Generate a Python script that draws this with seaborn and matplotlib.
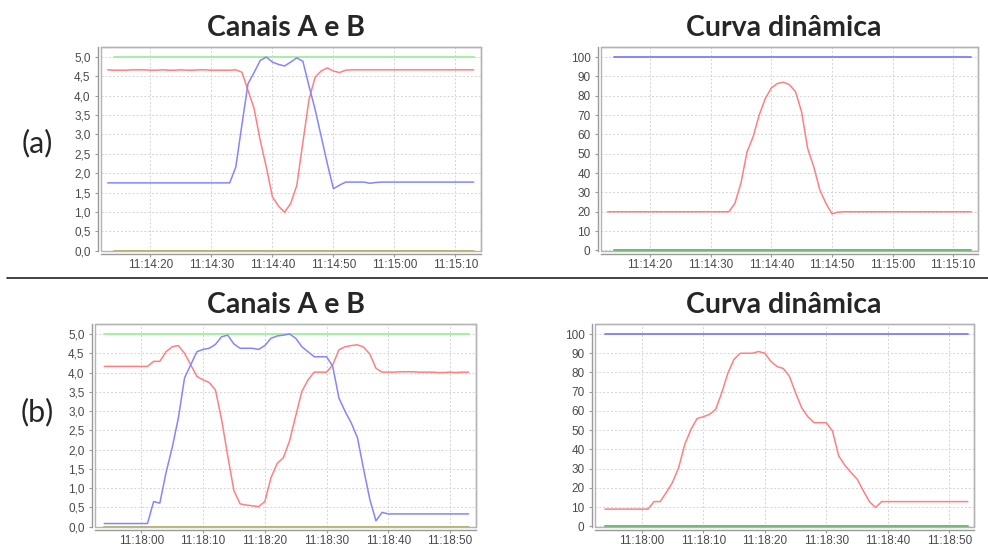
import matplotlib
matplotlib.use('Agg')
import matplotlib.pyplot as plt
import matplotlib.dates as mdates
from matplotlib.ticker import FuncFormatter, MultipleLocator
from matplotlib.patches import Rectangle
from matplotlib.lines import Line2D
import pandas as pd
import seaborn as sns

sns.set_style('white')
plt.rcParams['font.family'] = ['Liberation Sans', 'DejaVu Sans']

# ---------- (a) dados: 11:14:13 a 11:15:13, 1 amostra/s ----------
inicio_a = '2020-01-01 11:14:13'
canal_a_vermelho = [4.67, 4.66, 4.66, 4.66, 4.67, 4.67, 4.67, 4.66, 4.66, 4.67, 4.66,
                    4.66, 4.67, 4.66, 4.66, 4.67, 4.67, 4.66, 4.66, 4.66, 4.66,
                    4.67, 4.61, 4.14, 3.67, 2.85, 2.16, 1.39, 1.15, 0.99, 1.22,
                    1.68, 2.80, 3.90, 4.48, 4.64, 4.72, 4.64, 4.60, 4.66,
                    4.67, 4.67, 4.67, 4.67, 4.67, 4.67, 4.67, 4.67, 4.67, 4.67, 4.67,
                    4.67, 4.67, 4.67, 4.67, 4.67, 4.67, 4.67, 4.67, 4.67, 4.67]
canal_a_azul = [1.75, 1.75, 1.75, 1.75, 1.75, 1.75, 1.75, 1.75, 1.75, 1.75, 1.75,
                1.75, 1.75, 1.75, 1.75, 1.75, 1.75, 1.75, 1.75, 1.75, 1.75,
                2.16, 3.25, 4.31, 4.60, 4.91, 5.00, 4.87, 4.81, 4.77, 4.87,
                4.98, 4.89, 4.25, 3.65, 2.95, 2.25, 1.60, 1.69, 1.77,
                1.77, 1.77, 1.77, 1.74, 1.76, 1.77, 1.77, 1.77, 1.77, 1.77, 1.77,
                1.77, 1.77, 1.77, 1.77, 1.77, 1.77, 1.77, 1.77, 1.77, 1.77]
canal_a_verde = [5.0] * 60      # começa 1 s depois
canal_a_amarelo = [0.0] * 60
curva_a_vermelho = [20, 20, 20, 20, 20, 20, 20, 20, 20, 20, 20,
                    20, 20, 20, 20, 20, 20, 20, 20, 20, 20,
                    24.4, 35, 51, 58.8, 70, 78.5, 84, 86.3, 87, 85.7,
                    82, 71.6, 52.7, 43.3, 31.3, 24.4, 18.9, 19.8, 20,
                    20, 20, 20, 20, 20, 20, 20, 20, 20, 20, 20,
                    20, 20, 20, 20, 20, 20, 20, 20, 20, 20]
curva_a_azul = [100] * 60
curva_a_verde = [0] * 60

# ---------- (b) dados: 11:17:54 a 11:18:53 ----------
inicio_b = '2020-01-01 11:17:54'
canal_b_azul = [0.08, 0.08, 0.08, 0.08, 0.08, 0.08, 0.08, 0.08,
                0.65, 0.61, 1.40, 2.05, 2.82, 3.86, 4.20, 4.54, 4.60, 4.63,
                4.73, 4.93, 4.97, 4.74, 4.63, 4.63, 4.63, 4.60, 4.70, 4.89,
                4.95, 4.97, 5.00, 4.89, 4.67, 4.54, 4.41, 4.41, 4.41, 4.16,
                3.34, 2.99, 2.69, 2.31, 1.49, 0.71, 0.15, 0.37, 0.33,
                0.33, 0.33, 0.33, 0.33, 0.33, 0.33, 0.33, 0.33, 0.33, 0.33, 0.33, 0.33, 0.33]
canal_b_vermelho = [4.16, 4.16, 4.16, 4.16, 4.16, 4.16, 4.16, 4.16,
                    4.29, 4.29, 4.54, 4.67, 4.70, 4.50, 4.20, 3.90, 3.81, 3.74,
                    3.55, 2.78, 1.83, 0.93, 0.59, 0.56, 0.54, 0.52, 0.65, 1.27,
                    1.64, 1.79, 2.22, 2.87, 3.51, 3.81, 4.01, 4.01, 4.01, 4.20,
                    4.59, 4.67, 4.70, 4.72, 4.66, 4.48, 4.11, 4.01, 4.01,
                    4.01, 4.02, 4.02, 4.02, 4.01, 4.01, 4.01, 4.00, 4.00, 4.01, 4.00, 4.01, 4.01]
canal_b_verde = [5.0] * 60
canal_b_amarelo = [0.0] * 60
curva_b_vermelho = [9, 9, 9, 9, 9, 9, 9, 9,
                    12.9, 12.9, 17.7, 22.9, 30.6, 42.7, 50.4, 56.1, 57, 58.2,
                    60.8, 69.4, 79.7, 86.9, 90, 90, 90, 90.9, 90, 85.7,
                    83.1, 82.1, 78, 69.4, 61.6, 57, 53.9, 53.9, 53.9, 49.6,
                    36.7, 31.8, 28.1, 24.6, 18.6, 12.9, 9.8, 12.9, 12.9,
                    12.9, 12.9, 12.9, 12.9, 12.9, 12.9, 12.9, 12.9, 12.9, 12.9, 12.9, 12.9, 12.9]
curva_b_azul = [100] * 60
curva_b_verde = [0] * 60

VERMELHO = '#ff8080'
AZUL = '#8585ff'
VERDE = '#a3f0a3'
AMARELO = '#b3ad6a'
VERDE_ESC = '#74b874'


def tempos(inicio, n, atraso=0):
    return pd.date_range(pd.Timestamp(inicio) + pd.Timedelta(seconds=atraso), periods=n, freq='s')


def virgula(v, _):
    return f'{v:.1f}'.replace('.', ',')


def estilo(ax, xlim, ylim, passo, fmt_virgula):
    ax.set_xlim(pd.Timestamp(xlim[0]), pd.Timestamp(xlim[1]))
    ax.set_ylim(*ylim)
    ax.xaxis.set_major_locator(mdates.SecondLocator(bysecond=[0, 10, 20, 30, 40, 50]))
    ax.xaxis.set_major_formatter(mdates.DateFormatter('%H:%M:%S'))
    ax.yaxis.set_major_locator(MultipleLocator(passo))
    if fmt_virgula:
        ax.yaxis.set_major_formatter(FuncFormatter(virgula))
    else:
        ax.yaxis.set_major_formatter(FuncFormatter(lambda v, _: f'{v:.0f}'))
    ax.grid(True, color='#d4d4d4', linestyle=(0, (2, 2)), linewidth=0.7)
    ax.set_xlabel('')
    ax.set_ylabel('')
    for s in ['top', 'right']:
        ax.spines[s].set_color('#b4b4b4')
        ax.spines[s].set_linewidth(1.0)
    for s in ['left', 'bottom']:
        ax.spines[s].set_position(('outward', 2))
        ax.spines[s].set_color('#9a9a9a')
        ax.spines[s].set_linewidth(1.0)
    ax.add_patch(Rectangle((0, 0), 1, 1, transform=ax.transAxes, fill=False,
                           ec='#b4b4b4', lw=1.0, clip_on=False))
    ax.tick_params(axis='both', which='major', length=2.5, width=0.8, color='#9a9a9a',
                   labelsize=8.5, labelcolor='#4a4a4a', pad=3, bottom=True, left=True)
    ax.tick_params(axis='x', length=2, pad=2)


def linha(ax, t, v, cor, lw):
    sns.lineplot(x=t, y=v, color=cor, linewidth=lw, ax=ax, estimator=None, legend=False)


fig = plt.figure(figsize=(9.88, 5.48), dpi=100)
W, H = 988, 548


def eixo(x0, x1, y0, y1):
    return fig.add_axes([x0 / W, 1 - y1 / H, (x1 - x0) / W, (y1 - y0) / H])


# (a) Canais A e B
ax1 = eixo(101, 481, 47, 251)
ta = tempos(inicio_a, len(canal_a_vermelho))
ta1 = tempos(inicio_a, len(canal_a_verde), 1)
linha(ax1, ta1, canal_a_amarelo, AMARELO, 1.3)
linha(ax1, ta1, canal_a_verde, VERDE, 1.4)
linha(ax1, ta, canal_a_vermelho, VERMELHO, 1.1)
linha(ax1, ta, canal_a_azul, AZUL, 1.1)
estilo(ax1, ('2020-01-01 11:14:11.9', '2020-01-01 11:15:14.2'), (-0.01, 5.26), 0.5, True)

# (a) Curva dinâmica
ax2 = eixo(601, 978, 47, 251)
ta1b = tempos(inicio_a, len(curva_a_azul), 1)
linha(ax2, ta1b, curva_a_verde, VERDE_ESC, 1.4)
linha(ax2, ta1b, curva_a_azul, AZUL, 1.4)
linha(ax2, ta, curva_a_vermelho, VERMELHO, 1.1)
estilo(ax2, ('2020-01-01 11:14:11.9', '2020-01-01 11:15:14.1'), (-0.3, 105.2), 10, False)

# (b) Canais A e B
ax3 = eixo(95, 476, 324, 527)
tb = tempos(inicio_b, len(canal_b_azul))
linha(ax3, tb, canal_b_amarelo, AMARELO, 1.3)
linha(ax3, tb, canal_b_verde, VERDE, 1.4)
linha(ax3, tb, canal_b_vermelho, VERMELHO, 1.1)
linha(ax3, tb, canal_b_azul, AZUL, 1.1)
estilo(ax3, ('2020-01-01 11:17:52.5', '2020-01-01 11:18:54.2'), (-0.01, 5.26), 0.5, True)

# (b) Curva dinâmica
ax4 = eixo(595, 974, 324, 527)
linha(ax4, tb, curva_b_verde, VERDE_ESC, 1.4)
linha(ax4, tb, curva_b_azul, AZUL, 1.4)
linha(ax4, tb, curva_b_vermelho, VERMELHO, 1.1)
estilo(ax4, ('2020-01-01 11:17:52.4', '2020-01-01 11:18:54.0'), (-0.3, 105.2), 10, False)

# títulos e rótulos
tit = dict(family=['Lato', 'DejaVu Sans'], fontsize=20.5, fontweight='bold', ha='center', va='center')
fig.text(286 / W, 1 - 28 / H, 'Canais A e B', **tit)
fig.text(784 / W, 1 - 28 / H, 'Curva dinâmica', **tit)
fig.text(286 / W, 1 - 305 / H, 'Canais A e B', **tit)
fig.text(784 / W, 1 - 305 / H, 'Curva dinâmica', **tit)

rot = dict(family=['Lato', 'DejaVu Sans'], fontsize=22, ha='center', va='center')
fig.text(37 / W, 1 - 143 / H, '(a)', **rot)
fig.text(37 / W, 1 - 412 / H, '(b)', **rot)

fig.add_artist(Line2D([7 / W, 1.0], [1 - 278 / H, 1 - 278 / H], transform=fig.transFigure,
                      color='#222222', linewidth=1.2))

fig.savefig('out.png', dpi=100)
